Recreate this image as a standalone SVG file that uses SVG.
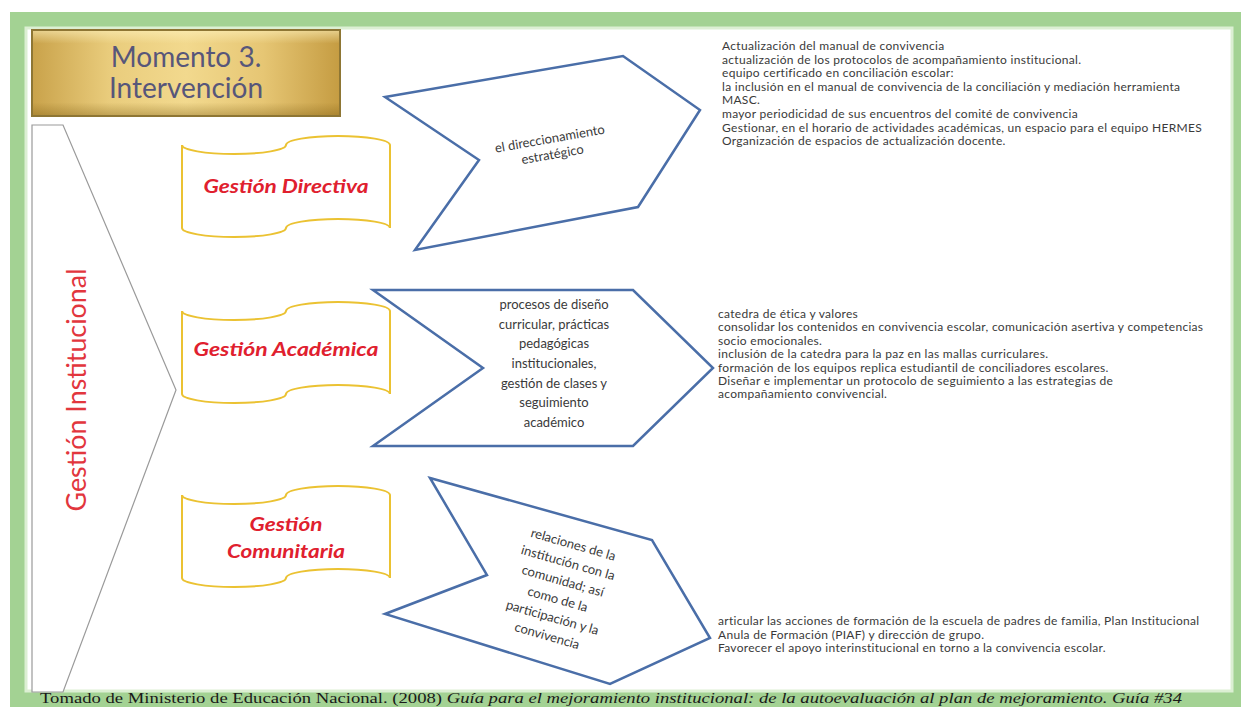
<svg xmlns="http://www.w3.org/2000/svg" width="1246" height="707" viewBox="0 0 1246 707">
  <defs>
    <linearGradient id="gold" x1="0" y1="0" x2="1" y2="0">
      <stop offset="0" stop-color="#c9a24a"/>
      <stop offset="0.25" stop-color="#e9cc7c"/>
      <stop offset="0.5" stop-color="#f2d98e"/>
      <stop offset="0.75" stop-color="#e6c674"/>
      <stop offset="1" stop-color="#c59c42"/>
    </linearGradient>
    <linearGradient id="goldv" x1="0" y1="0" x2="0" y2="1">
      <stop offset="0" stop-color="#fff3c0" stop-opacity="0.55"/>
      <stop offset="0.15" stop-color="#fff3c0" stop-opacity="0"/>
      <stop offset="0.85" stop-color="#7a5a10" stop-opacity="0"/>
      <stop offset="1" stop-color="#7a5a10" stop-opacity="0.35"/>
    </linearGradient>
  </defs>
  <style>
    .frame { fill: #a3d293; }
    .inner { fill: #ffffff; stroke: #dcefd3; stroke-width: 3; }
    .title { font-family: Lato, "Liberation Sans", sans-serif; font-size: 28px; fill: #57567a; text-anchor: middle; }
    .inst { font-family: Lato, "Liberation Sans", sans-serif; font-size: 27px; fill: #e2363d; text-anchor: middle; }
    .bracket { fill: #ffffff; stroke: #9a9a9a; stroke-width: 1.2; }
    .banner { fill: #ffffff; stroke: #ebc232; stroke-width: 2; }
    .btext { font-family: Lato, "Liberation Sans", sans-serif; font-size: 19px; font-weight: bold; font-style: italic; fill: #e0202e; text-anchor: middle; }
    .chev { fill: #ffffff; stroke: #4a6ea8; stroke-width: 2.5; stroke-linejoin: miter; }
    .ctext { font-family: Lato, "Liberation Sans", sans-serif; font-size: 13px; fill: #3a3a3a; text-anchor: middle; }
    .rtext { font-family: Lato, "Liberation Sans", sans-serif; font-size: 12px; letter-spacing: 0.3px; fill: #3a3a3a; }
    .cite { font-family: "Liberation Serif", "Times New Roman", serif; font-size: 15px; fill: #1a1a1a; }
  </style>

  <!-- frame -->
  <rect class="frame" x="10" y="12" width="1231" height="695"/>
  <rect class="inner" x="26" y="28" width="1206" height="663"/>

  <!-- title -->
  <g id="title">
    <rect x="32" y="30" width="308" height="86" fill="url(#gold)" stroke="#8e7634" stroke-width="2"/>
    <rect x="33" y="31" width="306" height="84" fill="url(#goldv)"/>
    <text class="title" x="186" y="67">Momento 3.</text>
    <text class="title" x="186" y="98">Intervención</text>
  </g>

  <!-- connectors: bracket joining Gestión Institucional to the three areas -->
  <g id="connectors">
    <polygon class="bracket" points="32,125 63,125 176,390 63,692 32,692"/>
  </g>

  <g id="gestion-institucional">
    <text class="inst" transform="translate(86,390) rotate(-90)" x="0" y="0" textLength="243" lengthAdjust="spacingAndGlyphs">Gestión Institucional</text>
  </g>

  <!-- banners -->
  <g id="gestion-directiva">
    <path class="banner" d="M182,145 A52,9 0 0 0 286,145 A52,9 0 0 1 390,145 L390,228 A52,9 0 0 0 286,228 A52,9 0 0 1 182,228 Z"/>
    <text class="btext" x="286" y="193" textLength="165" lengthAdjust="spacingAndGlyphs">Gestión Directiva</text>
  </g>
  <g id="gestion-academica">
    <path class="banner" d="M182,311 A52,9 0 0 0 286,311 A52,9 0 0 1 390,311 L390,394 A52,9 0 0 0 286,394 A52,9 0 0 1 182,394 Z"/>
    <text class="btext" x="286" y="356" textLength="185" lengthAdjust="spacingAndGlyphs">Gestión Académica</text>
  </g>
  <g id="gestion-comunitaria">
    <path class="banner" d="M182,495 A52,9 0 0 0 286,495 A52,9 0 0 1 390,495 L390,578 A52,9 0 0 0 286,578 A52,9 0 0 1 182,578 Z"/>
    <text class="btext" x="286" y="531" textLength="73" lengthAdjust="spacingAndGlyphs">Gestión</text>
    <text class="btext" x="286" y="558" textLength="118" lengthAdjust="spacingAndGlyphs">Comunitaria</text>
  </g>

  <!-- chevrons -->
  <g id="chevron-directiva">
    <polygon class="chev" points="385,97 623,56 700,110 638,207 415,250 479,160"/>
    <g transform="translate(551,146) rotate(-10)">
      <text class="ctext" x="0" y="-3">el direccionamiento</text>
      <text class="ctext" x="0" y="13">estratégico</text>
    </g>
  </g>
  <g id="chevron-academica">
    <polygon class="chev" points="373,290 633,290 713,368 633,446 373,446 483,368"/>
    <text class="ctext" x="554" y="309">procesos de diseño</text>
    <text class="ctext" x="554" y="329">curricular, prácticas</text>
    <text class="ctext" x="554" y="348">pedagógicas</text>
    <text class="ctext" x="554" y="368">institucionales,</text>
    <text class="ctext" x="554" y="388">gestión de clases y</text>
    <text class="ctext" x="554" y="407">seguimiento</text>
    <text class="ctext" x="554" y="427">académico</text>
  </g>
  <g id="chevron-comunitaria">
    <polygon class="chev" points="430,478 652,540 710,638 610,684 385,614 487,575"/>
    <g transform="translate(560,591) rotate(16)">
      <text class="ctext" x="0" y="-44">relaciones de la</text>
      <text class="ctext" x="0" y="-25">institución con la</text>
      <text class="ctext" x="0" y="-6">comunidad; así</text>
      <text class="ctext" x="0" y="13">como de la</text>
      <text class="ctext" x="0" y="32">participación y la</text>
      <text class="ctext" x="0" y="51">convivencia</text>
    </g>
  </g>

  <!-- right text blocks -->
  <g id="acciones-directiva" class="rtext">
    <text x="722" y="50">Actualización del manual de convivencia</text>
    <text x="722" y="63.6">actualización de los protocolos de acompañamiento institucional.</text>
    <text x="722" y="77.2">equipo certificado en conciliación escolar:</text>
    <text x="722" y="90.8">la inclusión en el manual de convivencia de la conciliación y mediación herramienta</text>
    <text x="722" y="104.4">MASC.</text>
    <text x="722" y="118">mayor periodicidad de sus encuentros del comité de convivencia</text>
    <text x="722" y="131.6">Gestionar, en el horario de actividades académicas, un espacio para el equipo HERMES</text>
    <text x="722" y="145.2">Organización de espacios de actualización docente.</text>
  </g>
  <g id="acciones-academica" class="rtext">
    <text x="718" y="318">catedra de ética y valores</text>
    <text x="718" y="331.4">consolidar los contenidos en convivencia escolar, comunicación asertiva y competencias</text>
    <text x="718" y="344.8">socio emocionales.</text>
    <text x="718" y="358.2">inclusión de la catedra para la paz en las mallas curriculares.</text>
    <text x="718" y="371.6">formación de los equipos replica estudiantil de conciliadores escolares.</text>
    <text x="718" y="385">Diseñar e implementar un protocolo de seguimiento a las estrategias de</text>
    <text x="718" y="398.4">acompañamiento convivencial.</text>
  </g>
  <g id="acciones-comunitaria" class="rtext">
    <text x="718" y="625">articular las acciones de formación de la escuela de padres de familia, Plan Institucional</text>
    <text x="718" y="638.5">Anula de Formación (PIAF) y dirección de grupo.</text>
    <text x="718" y="652">Favorecer el apoyo interinstitucional en torno a la convivencia escolar.</text>
  </g>

  <!-- citation -->
  <text class="cite" x="40" y="703" textLength="1142" lengthAdjust="spacingAndGlyphs">Tomado de Ministerio de Educación Nacional. (2008) <tspan font-style="italic">Guía para el mejoramiento institucional: de la autoevaluación al plan de mejoramiento. Guía #34</tspan></text>
</svg>
